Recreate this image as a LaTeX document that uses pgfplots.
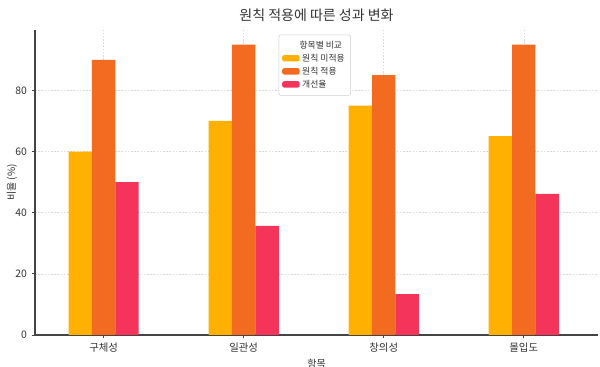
\documentclass[border=0pt]{standalone}
\usepackage{pgfplots}
\pgfplotsset{compat=1.18}
\usepackage{fontspec}
\setmainfont{Noto Sans CJK KR}
\definecolor{cYel}{HTML}{FFB000}
\definecolor{cOra}{HTML}{F26B21}
\definecolor{cRed}{HTML}{F4345A}
\definecolor{cTxt}{HTML}{333333}
\definecolor{cAx}{HTML}{444444}
\begin{document}
\begin{tikzpicture}
\useasboundingbox (0,0) rectangle (450pt,275.25pt);
\begin{axis}[
  at={(26.25pt,24pt)}, anchor=south west,
  scale only axis, width=422.25pt, height=228.75pt,
  xmin=-0.49, xmax=3.53, ymin=0, ymax=99.75,
  xtick={0,1,2,3}, xticklabels={구체성,일관성,창의성,몰입도},
  ytick={0,20,40,60,80},
  axis x line*=bottom, axis y line*=left,
  axis line style={cAx, line width=0.8pt},
  tick style={cAx, line width=0.6pt},
  tick align=outside, major tick length=2.6pt,
  grid=major, major grid style={gray!30, dash pattern=on 1.2pt off 1.2pt, line width=0.4pt},
  ticklabel style={font=\fontsize{7.8}{9}\selectfont, text=cTxt},
  /pgf/number format/assume math mode=true,
  xlabel={항목}, ylabel={비율 (\%)},
  label style={font=\fontsize{7.5}{9}\selectfont, text=cTxt},
  xlabel style={yshift=2pt},
  ylabel style={at={(axis description cs:-0.041,0.5)}, anchor=center},
  title={원칙 적용에 따른 성과 변화},
  title style={font=\fontsize{10.5}{12}\selectfont, text=cTxt, yshift=-3pt},
  ybar, bar width=0.167,
  legend cell align=left,
  legend style={at={(axis description cs:0.497,0.985)}, anchor=north,
    font=\fontsize{6.6}{8}\selectfont, text=cTxt, draw=gray!40, rounded corners=1.5pt,
    row sep=-1.2pt, inner sep=2.5pt},
  legend image code/.code={\fill[#1] (0pt,-2.2pt) rectangle (13pt,2.6pt);},
]
\addlegendimage{empty legend}
\addlegendentry{\hspace{-2pt}항목별 비교}
\addplot[fill=cYel, draw=none, bar shift=-0.167] coordinates {(0,60) (1,70) (2,75) (3,65)};
\addlegendentry{원칙 미적용}
\addplot[fill=cOra, draw=none, bar shift=0] coordinates {(0,90) (1,95) (2,85) (3,95)};
\addlegendentry{원칙 적용}
\addplot[fill=cRed, draw=none, bar shift=0.167] coordinates {(0,50) (1,35.71) (2,13.33) (3,46.15)};
\addlegendentry{개선율}
\end{axis}
\end{tikzpicture}
\end{document}
